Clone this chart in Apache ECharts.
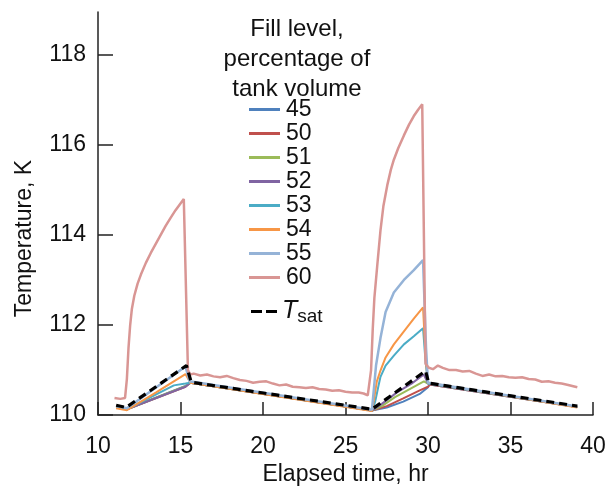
<!DOCTYPE html>
<html>
<head>
<meta charset="utf-8">
<script src="https://cdn.jsdelivr.net/npm/echarts@6/dist/echarts.min.js"></script>
<style>
html,body{margin:0;padding:0;background:#fff;}
#chart{width:610px;height:491px;}
</style>
</head>
<body>
<div id="chart"></div>
<script>
// Data: [elapsed time (hr), temperature (K)]
const s45 = [[11.1,110.18],[11.75,110.13],[15.3,110.65],[15.6,110.72],[26.6,110.1],[26.7,110.1],[27.5,110.17],[28.5,110.3],[29.5,110.47],[30.0,110.62],[30.1,110.68],[39.05,110.18]];
const s50 = [[11.1,110.18],[11.75,110.13],[15.3,110.63],[15.6,110.72],[26.6,110.1],[26.7,110.1],[27.5,110.2],[28.5,110.37],[29.5,110.55],[30.0,110.63],[30.1,110.68],[39.05,110.18]];
const s51 = [[11.1,110.18],[11.75,110.13],[15.3,110.64],[15.6,110.72],[26.6,110.1],[26.7,110.11],[27.2,110.2],[28.0,110.4],[29.0,110.6],[29.75,110.75],[30.0,110.7],[30.1,110.68],[39.05,110.18]];
const s52 = [[11.1,110.18],[11.75,110.13],[15.3,110.63],[15.6,110.72],[26.6,110.1],[26.7,110.12],[27.2,110.25],[28.1,110.5],[29.0,110.7],[29.75,110.9],[30.0,110.7],[30.1,110.68],[39.05,110.18]];
const s53 = [[11.1,110.18],[11.75,110.13],[14.6,110.66],[15.3,110.7],[15.6,110.72],[26.6,110.1],[26.8,110.3],[27.0,110.65],[27.12,110.85],[27.43,111.1],[27.93,111.32],[28.54,111.57],[29.14,111.75],[29.7,111.93],[29.85,111.2],[30.0,110.7],[30.1,110.68],[39.05,110.18]];
const s54 = [[11.1,110.15],[11.75,110.11],[13.5,110.5],[15.3,110.91],[15.6,110.72],[26.6,110.09],[26.75,110.4],[26.9,110.75],[27.12,110.99],[27.43,111.28],[27.93,111.57],[28.54,111.86],[29.14,112.14],[29.7,112.39],[29.85,111.3],[30.0,110.72],[30.1,110.68],[39.05,110.17]];
const s55 = [[11.1,110.2],[11.75,110.15],[15.3,111.08],[15.55,110.75],[26.6,110.12],[26.7,110.5],[26.85,111.1],[27.12,111.71],[27.43,112.29],[27.93,112.72],[28.54,113.0],[29.14,113.22],[29.7,113.44],[29.88,111.5],[30.0,110.72],[30.1,110.69],[39.05,110.19]];
const s60 = [[11.0,110.38],[11.35,110.36],[11.64,110.38],[11.75,110.8],[11.85,111.5],[11.95,112.0],[12.05,112.35],[12.2,112.65],[12.4,112.92],[12.6,113.12],[12.9,113.38],[13.2,113.6],[13.5,113.8],[13.8,114.0],[14.1,114.2],[14.4,114.38],[14.7,114.55],[15.0,114.7],[15.2,114.8],[15.45,111.0],[15.6,110.9],
  [15.8,110.92],[16.2,110.88],[16.6,110.9],[17.0,110.86],[17.4,110.84],[17.8,110.87],[18.2,110.82],[18.6,110.78],[19.0,110.76],[19.4,110.72],[19.8,110.74],[20.2,110.75],[20.6,110.7],[21.0,110.66],[21.4,110.68],[21.8,110.63],[22.2,110.62],[22.6,110.6],[23.0,110.62],[23.4,110.58],[23.8,110.57],[24.2,110.54],[24.6,110.55],[25.0,110.52],[25.4,110.5],[25.8,110.5],[26.1,110.48],[26.35,110.44],[26.45,110.42],
  [26.55,111.0],[26.65,111.9],[26.75,112.6],[26.92,113.3],[27.12,114.1],[27.3,114.65],[27.53,115.1],[27.75,115.45],[27.93,115.67],[28.2,115.93],[28.54,116.21],[28.85,116.45],[29.14,116.64],[29.4,116.78],[29.65,116.9],[29.85,111.14],[30.05,111.05],
  [30.3,111.02],[30.6,111.1],[30.9,111.05],[31.3,111.0],[31.7,111.0],[32.1,110.97],[32.5,110.98],[32.9,110.92],[33.3,110.87],[33.7,110.9],[34.1,110.86],[34.5,110.87],[34.9,110.84],[35.3,110.83],[35.7,110.84],[36.1,110.8],[36.5,110.79],[36.9,110.74],[37.3,110.75],[37.7,110.72],[38.1,110.7],[38.5,110.67],[39.05,110.62]];
const tsat = [[11.1,110.22],[11.7,110.17],[15.36,111.1],[15.65,110.73],[26.6,110.13],[29.85,110.98],[30.05,110.71],[39.05,110.2]];

const seriesNames = ['45','50','51','52','53','54','55','60'];
const seriesData = [s45,s50,s51,s52,s53,s54,s55,s60];
const seriesColors = ['#4f81bd','#c0504d','#9bbb59','#8064a2','#4bacc6','#f79646','#95b3d7','#d99694'];
const xTicks = [10,15,20,25,30,35,40];
const yTicks = [110,112,114,116,118];

const FONT = 'Liberation Sans, Arial, sans-serif';
const chart = echarts.init(document.getElementById('chart'), null, {renderer:'canvas'});

const series = seriesNames.map((n,i)=>({
  name:n, type:'line', data:seriesData[i], symbol:'none', smooth:false,
  lineStyle:{color:seriesColors[i], width:(n==='60'||n==='55')?2.5:2},
  itemStyle:{color:seriesColors[i]}, z:2+i, animation:false
}));
series.push({
  name:'Tsat', type:'line', data:tsat, symbol:'none',
  lineStyle:{color:'#000', width:3.2, type:[8,5]}, itemStyle:{color:'#000'}, z:20, animation:false
});

chart.setOption({
  backgroundColor:'#fff',
  animation:false,
  textStyle:{fontFamily:FONT},
  title:{
    text:'Fill level,\npercentage of\ntank volume',
    left:292, top:9, textAlign:'center',
    textStyle:{fontFamily:FONT, fontSize:24, fontWeight:'normal', color:'#111', lineHeight:30}
  },
  legend:[{
    data:seriesNames, orient:'vertical', left:244, top:93,
    icon:'rect', itemWidth:31, itemHeight:3, itemGap:1, selectedMode:false,
    textStyle:{fontFamily:FONT, fontSize:23, color:'#111', padding:[0,0,0,1]}
  },{
    data:['Tsat'], orient:'vertical', left:246, top:294,
    icon:'path://M0,0H11V3H0Z M15,0H26V3H15Z', itemWidth:26, itemHeight:3, selectedMode:false,
    formatter:()=>'{t|T}{s|sat}',
    textStyle:{fontFamily:FONT, color:'#111',
      rich:{t:{fontSize:25, fontStyle:'italic', fontFamily:FONT, color:'#111'},
            s:{fontSize:19, fontFamily:FONT, color:'#111', padding:[11,0,0,0]}}}
  }],
  grid:{left:98, right:17, top:12, bottom:66, containLabel:false},
  xAxis:{
    type:'value', min:10, max:40, interval:5,
    name:'Elapsed time, hr', nameLocation:'middle', nameGap:42,
    nameTextStyle:{fontFamily:FONT, fontSize:23, color:'#111'},
    axisLine:{show:true, onZero:false, lineStyle:{color:'#222', width:1.5}},
    axisTick:{show:true, inside:true, length:13, lineStyle:{color:'#222', width:1.5}},
    axisLabel:{fontFamily:FONT, fontSize:23, color:'#111', margin:20, formatter:v=>xTicks.includes(v)?String(v):''},
    splitLine:{show:false}
  },
  yAxis:{
    type:'value', min:110, max:118.95,
    name:'Temperature, K', nameLocation:'middle', nameGap:62, nameRotate:90,
    nameTextStyle:{fontFamily:FONT, fontSize:23, color:'#111', padding:[0,50,0,0]},
    axisLine:{show:true, onZero:false, lineStyle:{color:'#222', width:1.5}},
    axisTick:{show:true, inside:true, length:15, customValues:yTicks, lineStyle:{color:'#222', width:1.5}},
    axisLabel:{fontFamily:FONT, fontSize:23, color:'#111', margin:12, customValues:yTicks},
    splitLine:{show:false}
  },
  series:series
});
</script>
</body>
</html>
